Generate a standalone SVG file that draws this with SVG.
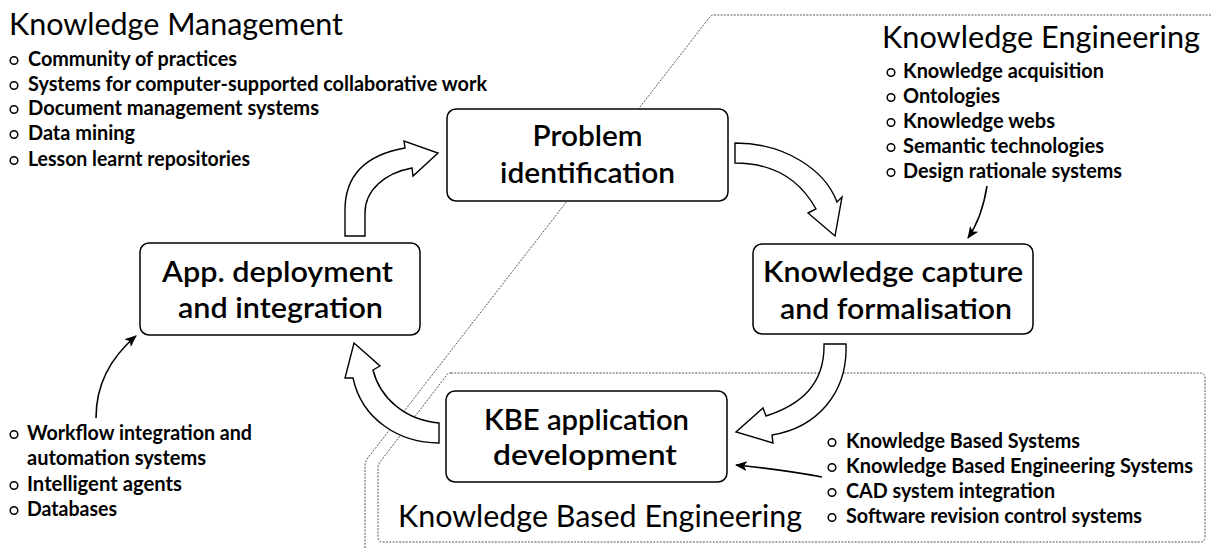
<svg xmlns="http://www.w3.org/2000/svg" width="1211" height="549" viewBox="0 0 1211 549">
  <style>
    text { font-family: Lato, "Open Sans", "Liberation Sans", sans-serif; fill: #000; }
    .title { font-size: 30px; font-weight: 400; }
    .item { font-size: 21px; font-weight: 700; }
    .label { font-size: 28px; font-weight: 600; text-anchor: middle; }
    .box { fill: #fff; stroke: #000; stroke-width: 1.5; }
    .dot { fill: none; stroke: #000; stroke-width: 1.5; }
    .zone { fill: none; stroke: #555; stroke-width: 1; stroke-dasharray: 2 1.3; }
    .flow { fill: #fff; stroke: #000; stroke-width: 1.4; stroke-linejoin: miter; }
    .link { fill: none; stroke: #000; stroke-width: 1.6; }
  </style>
  <defs>
    <marker id="ah" viewBox="0 0 12 10" refX="11" refY="5" markerWidth="12" markerHeight="10" orient="auto" markerUnits="userSpaceOnUse">
      <path d="M0,0 L12,5 L0,10 L3,5 Z" fill="#000"/>
    </marker>
  </defs>

  <rect width="1211" height="549" fill="#fff"/>

  <!-- domain boundaries -->
  <g id="zones">
    <path class="zone" d="M1211,15 L714,15 Q711,15 709,18 L367,459 Q365,462 365,466 L365,549"/>
    <path class="zone" d="M451,373 L1200,373 Q1205,373 1205,378 L1205,537 Q1205,542 1200,542 L383,542 Q378,542 378,537 L378,468 Q378,465 380,462 L446,376 Q447,373 451,373 Z"/>
  </g>

  <!-- Knowledge Management -->
  <g id="knowledge-management">
    <text class="title" x="9" y="35" textLength="334" lengthAdjust="spacingAndGlyphs">Knowledge Management</text>
    <circle class="dot" cx="14" cy="60.5" r="3.8"/>
    <text class="item" x="28" y="66" textLength="209" lengthAdjust="spacingAndGlyphs">Community of practices</text>
    <circle class="dot" cx="14" cy="85.5" r="3.8"/>
    <text class="item" x="28" y="91" textLength="459" lengthAdjust="spacingAndGlyphs">Systems for computer-supported collaborative work</text>
    <circle class="dot" cx="14" cy="109.5" r="3.8"/>
    <text class="item" x="28" y="115" textLength="291" lengthAdjust="spacingAndGlyphs">Document management systems</text>
    <circle class="dot" cx="14" cy="134.5" r="3.8"/>
    <text class="item" x="28" y="140" textLength="107" lengthAdjust="spacingAndGlyphs">Data mining</text>
    <circle class="dot" cx="14" cy="160.5" r="3.8"/>
    <text class="item" x="28" y="166" textLength="222" lengthAdjust="spacingAndGlyphs">Lesson learnt repositories</text>
  </g>

  <!-- Knowledge Engineering -->
  <g id="knowledge-engineering">
    <text class="title" x="882" y="48" textLength="318" lengthAdjust="spacingAndGlyphs">Knowledge Engineering</text>
    <circle class="dot" cx="891" cy="72.5" r="3.8"/>
    <text class="item" x="903" y="78" textLength="201" lengthAdjust="spacingAndGlyphs">Knowledge acquisition</text>
    <circle class="dot" cx="891" cy="97.5" r="3.8"/>
    <text class="item" x="903" y="103" textLength="97" lengthAdjust="spacingAndGlyphs">Ontologies</text>
    <circle class="dot" cx="891" cy="122.5" r="3.8"/>
    <text class="item" x="903" y="128" textLength="152" lengthAdjust="spacingAndGlyphs">Knowledge webs</text>
    <circle class="dot" cx="891" cy="147.5" r="3.8"/>
    <text class="item" x="903" y="153" textLength="201" lengthAdjust="spacingAndGlyphs">Semantic technologies</text>
    <circle class="dot" cx="891" cy="172.5" r="3.8"/>
    <text class="item" x="903" y="178" textLength="219" lengthAdjust="spacingAndGlyphs">Design rationale systems</text>
  </g>

  <!-- Knowledge Based Engineering -->
  <g id="knowledge-based-engineering">
    <text class="title" x="398" y="527" textLength="404" lengthAdjust="spacingAndGlyphs">Knowledge Based Engineering</text>
    <circle class="dot" cx="832" cy="442.5" r="3.8"/>
    <text class="item" x="846" y="448" textLength="234" lengthAdjust="spacingAndGlyphs">Knowledge Based Systems</text>
    <circle class="dot" cx="832" cy="467.5" r="3.8"/>
    <text class="item" x="846" y="473" textLength="347" lengthAdjust="spacingAndGlyphs">Knowledge Based Engineering Systems</text>
    <circle class="dot" cx="832" cy="492.5" r="3.8"/>
    <text class="item" x="846" y="498" textLength="209" lengthAdjust="spacingAndGlyphs">CAD system integration</text>
    <circle class="dot" cx="832" cy="517.5" r="3.8"/>
    <text class="item" x="846" y="523" textLength="296" lengthAdjust="spacingAndGlyphs">Software revision control systems</text>
  </g>

  <!-- integration tools -->
  <g id="integration-tools">
    <circle class="dot" cx="14" cy="434.5" r="3.8"/>
    <text class="item" x="27" y="440" textLength="225" lengthAdjust="spacingAndGlyphs">Workflow integration and</text>
    <text class="item" x="27" y="465" textLength="179" lengthAdjust="spacingAndGlyphs">automation systems</text>
    <circle class="dot" cx="14" cy="485.5" r="3.8"/>
    <text class="item" x="27" y="491" textLength="155" lengthAdjust="spacingAndGlyphs">Intelligent agents</text>
    <circle class="dot" cx="14" cy="510.5" r="3.8"/>
    <text class="item" x="27" y="516" textLength="90" lengthAdjust="spacingAndGlyphs">Databases</text>
  </g>

  <!-- cycle arrows and links -->
  <g id="connectors">
    <path class="flow" d="M345,236 L345,210 C345,175 365,155 405,148 L404,141 L438,153 L413,176 L412,168 C385,173 365,190 365,213 L365,236 Z"/>
    <path class="flow" d="M735,143 C785,143 825,170 837,202 L842,197 L835,236 L808,213 L816,209 C800,180 775,163 735,163 Z"/>
    <path class="flow" d="M846,344 C848,395 815,428 772,435 L773,443 L736,432 L763,408 L766,416 C800,405 825,385 824,344 Z"/>
    <path class="flow" d="M439,443 C400,443 362,420 353,378 L345,378 L354,343 L380,366 L373,370 C380,398 405,420 439,423 Z"/>
    <path class="link" d="M987,186 C984,205 979,222 968,238" marker-end="url(#ah)"/>
    <path class="link" d="M96,418 C96,385 110,358 136,336" marker-end="url(#ah)"/>
    <path class="link" d="M822,477 C795,472 765,468 736,465" marker-end="url(#ah)"/>
  </g>

  <!-- process steps -->
  <g id="problem-identification">
    <rect class="box" x="447" y="109" width="281" height="92" rx="9"/>
    <text class="label" x="587.5" y="146" textLength="110" lengthAdjust="spacingAndGlyphs">Problem</text>
    <text class="label" x="587.5" y="183" textLength="175" lengthAdjust="spacingAndGlyphs">identification</text>
  </g>
  <g id="knowledge-capture">
    <rect class="box" x="753" y="244" width="280" height="90" rx="9"/>
    <text class="label" x="893" y="282" textLength="260" lengthAdjust="spacingAndGlyphs">Knowledge capture</text>
    <text class="label" x="896" y="319" textLength="232" lengthAdjust="spacingAndGlyphs">and formalisation</text>
  </g>
  <g id="kbe-development">
    <rect class="box" x="446" y="391" width="281" height="91" rx="9"/>
    <text class="label" x="586.5" y="430" textLength="205" lengthAdjust="spacingAndGlyphs">KBE application</text>
    <text class="label" x="585" y="465" textLength="184" lengthAdjust="spacingAndGlyphs">development</text>
  </g>
  <g id="app-deployment">
    <rect class="box" x="140" y="243" width="280" height="92" rx="9"/>
    <text class="label" x="277.5" y="282" textLength="231" lengthAdjust="spacingAndGlyphs">App. deployment</text>
    <text class="label" x="280.5" y="318" textLength="205" lengthAdjust="spacingAndGlyphs">and integration</text>
  </g>
</svg>
